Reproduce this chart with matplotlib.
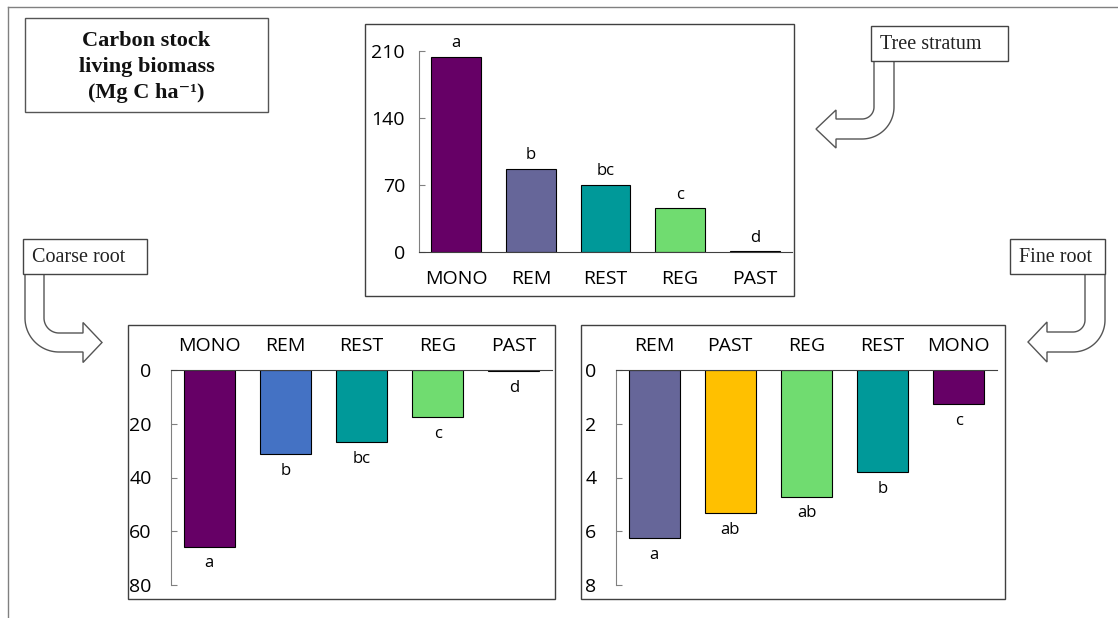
import numpy as np
import matplotlib
matplotlib.use('Agg')
import matplotlib.pyplot as plt
from matplotlib.patches import Rectangle, Polygon

plt.rcParams['font.family'] = ['Open Sans', 'DejaVu Sans']

W, H = 1118, 618

# tree stratum
tree_sites = ['MONO', 'REM', 'REST', 'REG', 'PAST']
tree_vals = [204, 86.5, 70, 45.5, 0.8]
tree_letters = ['a', 'b', 'bc', 'c', 'd']
tree_colors = ['#660066', '#666699', '#009999', '#70DC70', '#FFC000']

# coarse root
coarse_sites = ['MONO', 'REM', 'REST', 'REG', 'PAST']
coarse_vals = [65.7, 31.4, 26.8, 17.6, 0.4]
coarse_letters = ['a', 'b', 'bc', 'c', 'd']
coarse_colors = ['#660066', '#4472C4', '#009999', '#70DC70', '#FFC000']

# fine root
fine_sites = ['REM', 'PAST', 'REG', 'REST', 'MONO']
fine_vals = [6.24, 5.33, 4.71, 3.80, 1.27]
fine_letters = ['a', 'ab', 'ab', 'b', 'c']
fine_colors = ['#666699', '#FFC000', '#70DC70', '#009999', '#660066']

fig = plt.figure(figsize=(W / 100, H / 100), dpi=100)
fig.patch.set_facecolor('white')


def px_axes(x0, y0, x1, y1, **kw):
    # pixel box (top-left origin) -> figure fraction
    return fig.add_axes([x0 / W, 1 - y1 / H, (x1 - x0) / W, (y1 - y0) / H], **kw)


# overlay for frames, boxes and arrows
ov = px_axes(0, 0, W, H, zorder=0)
ov.set_xlim(0, W)
ov.set_ylim(H, 0)
ov.axis('off')

ov.plot([8, W], [7, 7], color='#808080', lw=1)
ov.plot([8, 8], [7, H], color='#808080', lw=1)

for (x0, y0, x1, y1) in [(365, 24, 794, 296), (128, 325, 555, 599), (581, 325, 1005, 599)]:
    ov.add_patch(Rectangle((x0, y0), x1 - x0, y1 - y0, fill=False, ec='#404040', lw=1))


def bent_arrow(xo, xi, ytop, ybot, r_out, xb, hh, xt):
    s = np.sign(xi - xo)
    w = abs(xi - xo)
    cx, cy = xo + s * r_out, ybot - r_out
    r_in = r_out - w
    mid = ybot - w / 2
    t = np.linspace(0, np.pi / 2, 30)
    pts = [(xi, ytop)]
    pts += list(zip(cx - s * r_in * np.cos(t), cy + r_in * np.sin(t)))
    pts += [(xb, ybot - w), (xb, mid - hh), (xt, mid), (xb, mid + hh), (xb, ybot)]
    pts += list(zip(cx - s * r_out * np.cos(t[::-1]), cy + r_out * np.sin(t[::-1])))
    pts += [(xo, ytop)]
    ov.add_patch(Polygon(pts, closed=True, fc='white', ec='#555555', lw=1))


bent_arrow(894, 874, 60, 139, 32, 836, 19, 816)
bent_arrow(25, 44, 273, 352, 34, 83, 20, 102)
bent_arrow(1105, 1085, 273, 352, 32, 1047, 20, 1028)

# title box and label boxes
ov.add_patch(Rectangle((25, 18), 243, 94, fc='white', ec='#555555', lw=1))
ov.text(146.5, 67, 'Carbon stock\nliving biomass\n(Mg C ha\u207b\u00b9)', ha='center', va='center',
        fontsize=16, fontweight='bold', linespacing=1.4,
        family=['Liberation Serif', 'DejaVu Serif'], color='#111111')

for (x0, y0, x1, y1, label) in [(871, 26, 1008, 61, 'Tree stratum'),
                                (23, 239, 147, 274, 'Coarse root'),
                                (1010, 239, 1105, 274, 'Fine root')]:
    ov.add_patch(Rectangle((x0, y0), x1 - x0, y1 - y0, fc='white', ec='#444444', lw=1))
    ov.text(x0 + 9, (y0 + y1) / 2 + 1, label, ha='left', va='center', fontsize=14.5,
            family=['Liberation Serif', 'DejaVu Serif'], color='#222222')


def style(ax, top):
    for sp in ax.spines.values():
        sp.set_visible(False)
    ax.spines['left'].set_visible(True)
    ax.spines['left'].set_color('#808080')
    ax.spines['top' if top else 'bottom'].set_visible(True)
    ax.spines['top' if top else 'bottom'].set_color('#404040')
    ax.tick_params(axis='y', direction='in', length=4, color='#808080', labelsize=14)
    ax.tick_params(axis='x', length=0, labelsize=14)
    ax.set_facecolor('none')


# tree stratum panel
ax1 = px_axes(419, 51, 792, 252, zorder=2)
x = np.arange(len(tree_sites))
ax1.bar(x, tree_vals, width=0.67, color=tree_colors, edgecolor='black', linewidth=0.8)
ax1.set_xlim(-0.5, 4.5)
ax1.set_ylim(0, 210)
ax1.set_yticks([0, 70, 140, 210])
ax1.set_xticks(x)
ax1.set_xticklabels(tree_sites)
style(ax1, top=False)
ax1.tick_params(axis='x', pad=13)
ax1.tick_params(axis='y', pad=10)
for i, v in enumerate(tree_vals):
    ax1.annotate(tree_letters[i], (x[i], v), xytext=(0, 7), textcoords='offset points',
                 ha='center', va='baseline', fontsize=12)

# coarse root panel
ax2 = px_axes(171, 370, 552, 585, zorder=2)
x = np.arange(len(coarse_sites))
ax2.bar(x, coarse_vals, width=0.67, color=coarse_colors, edgecolor='black', linewidth=0.8)
ax2.set_xlim(-0.5, 4.5)
ax2.set_ylim(80, 0)
ax2.set_yticks([0, 20, 40, 60, 80])
ax2.set_xticks(x)
ax2.set_xticklabels(coarse_sites)
style(ax2, top=True)
ax2.xaxis.tick_top()
ax2.tick_params(axis='x', length=0, pad=11)
ax2.tick_params(axis='y', pad=14)
for i, v in enumerate(coarse_vals):
    ax2.annotate(coarse_letters[i], (x[i], v), xytext=(0, -15), textcoords='offset points',
                 ha='center', va='baseline', fontsize=12)

# fine root panel
ax3 = px_axes(616, 370, 997, 585, zorder=2)
x = np.arange(len(fine_sites))
ax3.bar(x, fine_vals, width=0.67, color=fine_colors, edgecolor='black', linewidth=0.8)
ax3.set_xlim(-0.5, 4.5)
ax3.set_ylim(8, 0)
ax3.set_yticks([0, 2, 4, 6, 8])
ax3.set_xticks(x)
ax3.set_xticklabels(fine_sites)
style(ax3, top=True)
ax3.xaxis.tick_top()
ax3.tick_params(axis='x', length=0, pad=11)
ax3.tick_params(axis='y', pad=14)
for i, v in enumerate(fine_vals):
    ax3.annotate(fine_letters[i], (x[i], v), xytext=(0, -15), textcoords='offset points',
                 ha='center', va='baseline', fontsize=12)

fig.savefig('out.png', dpi=100)
